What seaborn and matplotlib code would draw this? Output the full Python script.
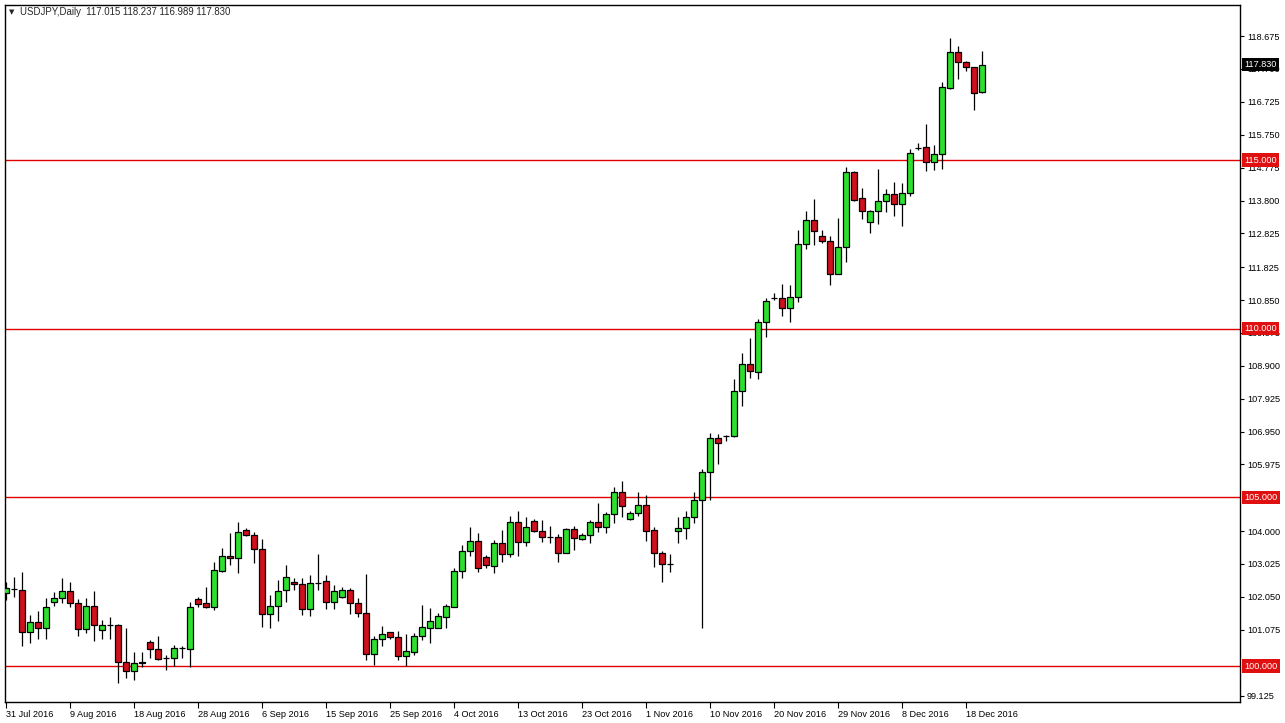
import numpy as np
import pandas as pd
import matplotlib
matplotlib.use('Agg')
import matplotlib.pyplot as plt
import seaborn as sns

# USDJPY daily candles, 31 Jul 2016 -> 20 Dec 2016
opens = [102.16, 102.28, 102.25, 101.01, 101.30, 101.13, 101.90, 102.02, 102.22, 101.87,
         101.10, 101.78, 101.07, 101.22, 101.22, 100.12, 99.85, 100.09, 100.71, 100.50,
         100.24, 100.24, 100.53, 100.50, 101.99, 101.87, 101.75, 102.82, 103.26, 103.20,
         104.03, 103.88, 103.47, 101.54, 101.78, 102.25, 102.49, 102.43, 101.69, 102.46,
         102.52, 101.90, 102.05, 102.25, 101.87, 101.57, 100.36, 100.80, 101.01, 100.86,
         100.30, 100.42, 100.89, 101.13, 101.13, 101.45, 101.75, 102.82, 103.41, 103.71,
         103.23, 102.96, 103.65, 103.32, 104.27, 103.68, 104.30, 104.00, 103.82, 103.82,
         103.35, 104.06, 103.77, 103.88, 104.27, 104.12, 104.51, 105.16, 104.36, 104.54,
         104.77, 104.03, 103.35, 103.02, 104.00, 104.09, 104.42, 104.92, 105.75, 106.76,
         106.82, 106.82, 108.15, 108.95, 108.72, 110.20, 110.90, 110.91, 110.61, 110.94,
         112.51, 113.22, 112.75, 112.60, 111.62, 112.42, 114.65, 113.88, 113.16, 113.49,
         113.79, 113.99, 113.70, 114.02, 115.36, 115.39, 114.94, 115.18, 117.14, 118.20,
         117.91, 117.76, 117.015]
highs = [102.49, 102.64, 102.79, 101.51, 101.63, 102.02, 102.19, 102.61, 102.49, 101.99,
         102.02, 102.22, 101.36, 101.45, 101.25, 101.13, 100.42, 100.42, 100.77, 100.89,
         100.33, 100.62, 100.59, 101.90, 102.05, 102.34, 103.08, 103.50, 103.94, 104.27,
         104.09, 103.97, 103.77, 102.10, 102.55, 102.99, 102.61, 102.61, 102.70, 103.32,
         102.70, 102.40, 102.34, 102.31, 102.02, 102.73, 100.89, 101.19, 101.02, 101.04,
         100.95, 100.98, 101.81, 101.72, 101.57, 101.84, 102.91, 103.59, 104.12, 103.94,
         103.29, 103.74, 104.03, 104.45, 104.60, 104.42, 104.36, 104.33, 104.15, 103.91,
         104.09, 104.15, 103.94, 104.33, 104.83, 104.57, 105.31, 105.48, 104.60, 105.16,
         105.07, 104.12, 103.41, 103.32, 104.42, 104.60, 105.16, 105.84, 106.91, 106.88,
         106.85, 108.51, 109.28, 109.72, 110.29, 110.91, 111.06, 111.33, 111.30, 112.93,
         113.49, 113.85, 112.93, 112.75, 113.28, 114.79, 114.68, 114.17, 113.52, 114.74,
         114.14, 114.35, 114.32, 115.33, 115.51, 116.07, 115.45, 117.31, 118.62, 118.38,
         117.94, 117.77, 118.237]
lows = [101.96, 102.05, 100.59, 100.68, 100.80, 100.80, 101.78, 101.87, 101.75, 100.89,
        100.98, 100.74, 100.80, 100.80, 99.50, 99.64, 99.58, 99.97, 100.24, 100.18,
        99.88, 100.00, 100.24, 99.97, 101.75, 101.72, 101.66, 102.79, 102.99, 102.76,
        103.85, 103.05, 101.16, 101.13, 101.33, 101.90, 102.25, 101.51, 101.48, 102.25,
        101.69, 101.69, 102.02, 101.54, 101.45, 100.18, 100.03, 100.59, 100.80, 100.18,
        100.00, 100.33, 100.77, 100.68, 101.12, 101.12, 101.74, 102.61, 103.26, 102.79,
        102.91, 102.76, 103.08, 103.23, 103.26, 103.56, 103.97, 103.68, 103.65, 103.08,
        103.34, 103.44, 103.74, 103.65, 103.97, 103.94, 104.24, 104.42, 104.33, 104.45,
        103.71, 102.94, 102.49, 102.79, 103.65, 103.77, 104.24, 101.13, 104.92, 105.99,
        106.67, 106.79, 107.71, 108.54, 108.51, 109.75, 110.85, 110.38, 110.20, 110.79,
        112.36, 112.48, 112.54, 111.30, 111.61, 111.98, 113.79, 113.25, 112.84, 113.10,
        113.46, 113.34, 113.04, 113.93, 115.30, 114.68, 114.71, 114.74, 117.11, 117.40,
        117.64, 116.48, 116.989]
closes = [102.31, 102.29, 101.01, 101.30, 101.13, 101.75, 102.02, 102.22, 101.87, 101.10,
          101.78, 101.22, 101.22, 101.23, 100.12, 99.85, 100.09, 100.12, 100.50, 100.21,
          100.25, 100.53, 100.54, 101.75, 101.84, 101.75, 102.85, 103.26, 103.20, 103.97,
          103.88, 103.47, 101.54, 101.78, 102.22, 102.64, 102.43, 101.69, 102.46, 102.47,
          101.90, 102.22, 102.25, 101.87, 101.57, 100.36, 100.80, 100.95, 100.86, 100.30,
          100.44, 100.89, 101.16, 101.33, 101.48, 101.78, 102.82, 103.41, 103.71, 102.91,
          102.99, 103.65, 103.32, 104.27, 103.68, 104.12, 104.00, 103.82, 103.83, 103.35,
          104.06, 103.79, 103.88, 104.27, 104.12, 104.51, 105.16, 104.74, 104.54, 104.77,
          104.00, 103.35, 103.02, 103.03, 104.09, 104.42, 104.92, 105.75, 106.76, 106.61,
          106.83, 108.15, 108.95, 108.75, 110.20, 110.82, 110.91, 110.61, 110.94, 112.51,
          113.22, 112.90, 112.60, 111.62, 112.42, 114.65, 113.82, 113.49, 113.49, 113.79,
          113.99, 113.70, 114.02, 115.21, 115.37, 114.94, 115.18, 117.17, 118.20, 117.91,
          117.76, 116.99, 117.830]

date_labels = ['31 Jul 2016', '9 Aug 2016', '18 Aug 2016', '28 Aug 2016', '6 Sep 2016',
               '15 Sep 2016', '25 Sep 2016', '4 Oct 2016', '13 Oct 2016', '23 Oct 2016',
               '1 Nov 2016', '10 Nov 2016', '20 Nov 2016', '29 Nov 2016', '8 Dec 2016',
               '18 Dec 2016']
price_ticks = [99.125, 101.075, 102.050, 103.025, 104.000, 105.975,
               106.950, 107.925, 108.900, 109.875, 110.850, 111.825, 112.825, 113.800,
               114.775, 115.750, 116.725, 117.700, 118.675]
levels = [100.0, 105.0, 110.0, 115.0]
last_price = 117.830
header = 'USDJPY,Daily  117.015 118.237 116.989 117.830'

df = pd.DataFrame({'open': opens, 'high': highs, 'low': lows, 'close': closes})
df['bar'] = np.arange(len(df))
df['up'] = df['close'] >= df['open']

sns.set_style('ticks')
plt.rcParams['font.family'] = ['Liberation Sans', 'DejaVu Sans']
fs = 6.6

fig = plt.figure(figsize=(12.85, 7.23), dpi=100)
ax = fig.add_axes([5 / 1285, 21 / 723, 1235 / 1285, 697 / 723])

# support / resistance lines
for lv in levels:
    ax.axhline(lv, color='#E00000', lw=1.0, zorder=1)

# wicks + bodies
ax.vlines(df['bar'], df['low'], df['high'], color='black', lw=0.9, zorder=2)
body_bottom = df[['open', 'close']].min(axis=1)
body_height = (df['close'] - df['open']).abs().clip(lower=0.004)
colors = np.where(df['up'], '#2EE02E', '#D0101C')
ax.bar(df['bar'], body_height, bottom=body_bottom, width=0.75, color=colors,
       edgecolor='black', linewidth=0.9, zorder=3)

ax.set_xlim(-0.1, 154.3)
ax.set_ylim(98.933, 119.597)

# right price scale
ax.yaxis.tick_right()
ax.set_yticks(price_ticks)
ax.set_yticklabels([f'{t:.3f}' for t in price_ticks])
ax.tick_params(axis='y', direction='out', length=3, width=0.8, pad=2, labelsize=fs,
               colors='black', right=True, left=False)

# date scale
ax.set_xticks(np.arange(0, len(date_labels) * 8, 8))
ax.set_xticklabels(date_labels, ha='left')
ax.tick_params(axis='x', direction='out', length=4, width=0.8, pad=2, labelsize=fs,
               colors='black', bottom=True)

for sp in ax.spines.values():
    sp.set_color('black')
    sp.set_linewidth(1.0)

ylab = ax.get_yaxis_transform()
for lv in levels:
    ax.text(1.0035, lv, f'{lv:.3f}', transform=ylab, ha='left', va='center', fontsize=fs,
            color='white', clip_on=False, zorder=10,
            bbox=dict(boxstyle='square,pad=0.25', fc='#E01010', ec='none'))
ax.text(1.0035, last_price, f'{last_price:.3f}', transform=ylab, ha='left', va='center',
        fontsize=fs, color='white', clip_on=False, zorder=10,
        bbox=dict(boxstyle='square,pad=0.25', fc='black', ec='none'))

# chart header
ax.text(0.003, 0.99, '\u25bc', transform=ax.transAxes, ha='left', va='center', fontsize=5,
        family='DejaVu Sans')
ax.text(0.012, 0.99, header, transform=ax.transAxes, ha='left', va='center', fontsize=6.9)

plt.savefig('out.png', dpi=100)
plt.close()
